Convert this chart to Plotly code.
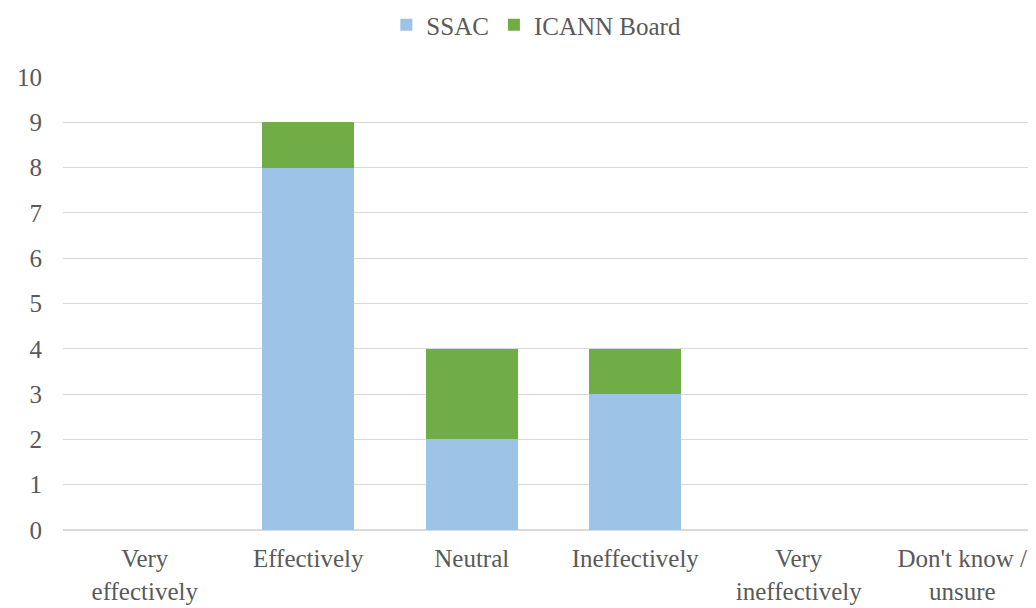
import plotly.graph_objects as go

categories = ["Very<br>effectively", "Effectively", "Neutral", "Ineffectively",
              "Very<br>ineffectively", "Don't know /<br>unsure"]
ssac = [0, 8, 2, 3, 0, 0]
icann_board = [0, 1, 2, 1, 0, 0]
y_ticks = list(range(0, 11))

font_family = "Liberation Serif, Times New Roman, serif"
text_color = "#595959"
fs = 25

fig = go.Figure()
fig.add_trace(go.Bar(x=categories, y=ssac, name="SSAC", marker_color="#9dc3e6",
                     marker_line_width=0))
fig.add_trace(go.Bar(x=categories, y=icann_board, name="ICANN Board",
                     marker_color="#70ad47", marker_line_width=0))

fig.update_layout(
    barmode="stack",
    bargap=0.435,
    width=1036, height=608,
    margin=dict(l=55, r=0, t=69, b=86, autoexpand=False),
    paper_bgcolor="white", plot_bgcolor="white",
    font=dict(family=font_family, color=text_color, size=fs),
    legend=dict(orientation="h", xref="container", x=0.51, xanchor="center",
                yref="container", y=0.972, yanchor="middle",
                font=dict(size=fs, color=text_color),
                itemwidth=30, traceorder="normal"),
    showlegend=True,
)
fig.update_xaxes(showgrid=False, showline=True, linecolor="#d9d9d9", linewidth=1,
                 ticks="", tickfont=dict(size=fs, color=text_color), tickangle=0,
                 ticklabelstandoff=6)
fig.update_yaxes(range=[0, 10], tickvals=y_ticks, showgrid=True, gridcolor="#d9d9d9",
                 gridwidth=1, zeroline=True, zerolinecolor="#d9d9d9", showline=False,
                 ticks="", tickfont=dict(size=fs, color=text_color), ticklabelstandoff=20)

fig.write_html("out.html")
